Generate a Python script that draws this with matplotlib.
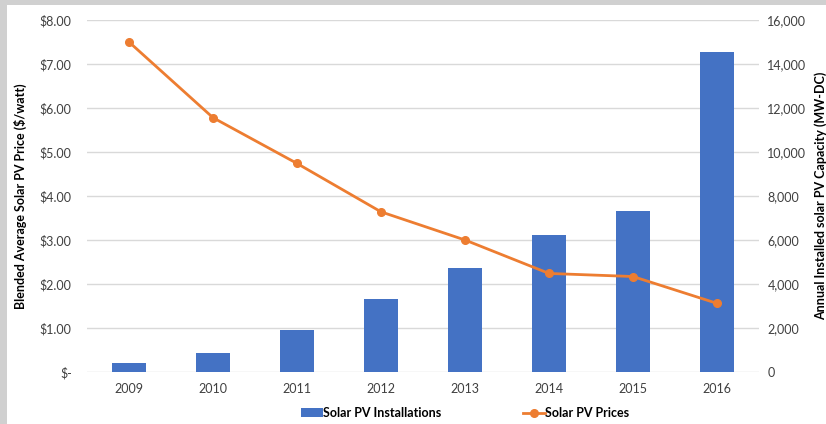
import matplotlib.pyplot as plt
from matplotlib.patches import Rectangle
import numpy as np

years = ['2009', '2010', '2011', '2012', '2013', '2014', '2015', '2016']
installations = [400, 850, 1900, 3300, 4750, 6250, 7300, 14550]  # MW-DC
prices = [7.50, 5.78, 4.74, 3.64, 3.00, 2.24, 2.17, 1.56]  # $/watt

bar_color = '#4472C4'
line_color = '#ED7D31'
grid_color = '#D9D9D9'

plt.rcParams['font.family'] = ['Lato', 'DejaVu Sans']

fig = plt.figure(figsize=(8.26, 4.24), dpi=100)
fig.patch.set_facecolor('#D0D0D0')
fig.patches.append(Rectangle((7 / 826, 0), 1, 1 - 5 / 424, transform=fig.transFigure,
                             facecolor='white', edgecolor='none', zorder=-5))

ax = fig.add_axes([87 / 826, 1 - 372 / 424, (759 - 87) / 826, (372 - 20) / 424])
ax2 = ax.twinx()

x = np.arange(len(years))

# Balken (rechte Achse) mit Gitter dahinter
ax2.bar(x, installations, width=0.4, color=bar_color, zorder=2, label='Solar PV Installations')
ax2.set_ylim(0, 16000)
ax2.set_yticks(np.arange(0, 16001, 2000))
ax2.set_yticklabels(['0'] + [f'{v:,}' for v in range(2000, 16001, 2000)])
ax2.yaxis.grid(True, color=grid_color, linewidth=1.0, zorder=0)
ax2.set_axisbelow(True)

# Linie (linke Achse) obenauf
ax.plot(x, prices, color=line_color, linewidth=2.0, marker='o', markersize=5.5,
        zorder=3, label='Solar PV Prices')
ax.set_ylim(0, 8)
ax.set_yticks(np.arange(0, 9))
ax.set_yticklabels(['$-'] + [f'${v}.00' for v in range(1, 9)])
ax.set_zorder(ax2.get_zorder() + 1)
ax.patch.set_visible(False)

ax.set_xlim(-0.5, len(years) - 0.5)
ax.set_xticks(x)
ax.set_xticklabels(years)

for a in (ax, ax2):
    for s in a.spines.values():
        s.set_visible(False)
    a.tick_params(length=0, labelsize=9, labelcolor='#404040')

ax.tick_params(axis='y', pad=11)
ax.tick_params(axis='x', pad=8)
ax2.tick_params(axis='y', pad=6)

ax.set_ylabel('Blended Average Solar PV Price ($/watt)', fontsize=9, fontweight='bold',
              color='black', labelpad=9)
ax2.set_ylabel('Annual Installed solar PV Capacity (MW-DC)', fontsize=9, fontweight='bold',
               color='black', labelpad=6)

h1, l1 = ax2.get_legend_handles_labels()
h2, l2 = ax.get_legend_handles_labels()
fig.legend(h1 + h2, l1 + l2, loc='center', bbox_to_anchor=(465 / 826, 1 - 413 / 424),
           ncol=2, frameon=False, columnspacing=6.5, handlelength=1.75, handletextpad=0.05,
           prop={'weight': 'bold', 'size': 9})

fig.savefig('out.png', dpi=100)
